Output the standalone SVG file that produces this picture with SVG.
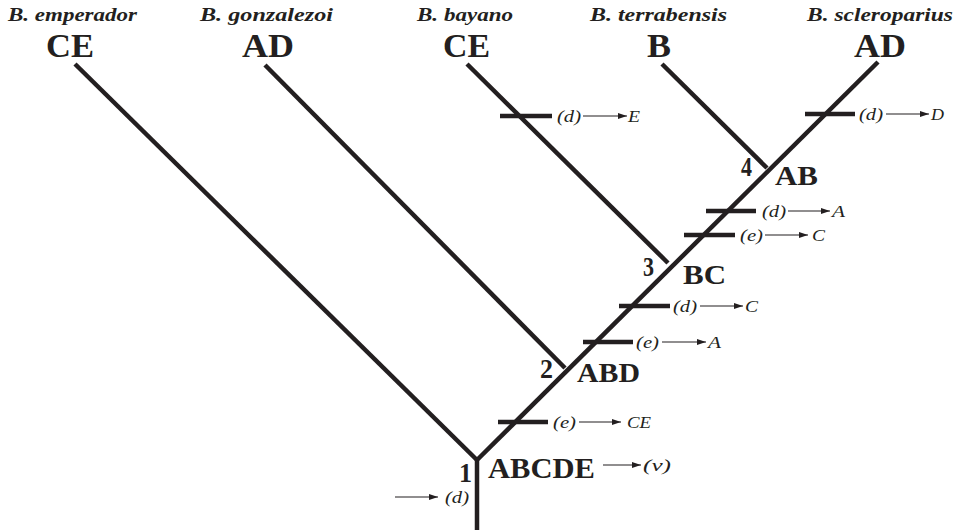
<svg xmlns="http://www.w3.org/2000/svg" width="960" height="530" viewBox="0 0 960 530">
<style>
.br{stroke:#231f20;stroke-width:4.5;fill:none;stroke-linecap:butt}
.bar{stroke:#231f20;stroke-width:4.5}
.ar{stroke:#231f20;stroke-width:1.1;marker-end:url(#ah)}
.tx{font-family:"Liberation Serif","Times New Roman",serif;font-weight:bold;font-style:italic;font-size:18px;fill:#231f20}
.big{font-family:"Liberation Serif","Times New Roman",serif;font-weight:bold;font-size:33px;fill:#231f20}
.nd{font-family:"Liberation Serif","Times New Roman",serif;font-weight:bold;font-size:27px;fill:#231f20}
.sm{font-family:"Liberation Serif","Times New Roman",serif;font-style:italic;font-size:17px;fill:#231f20}
</style>
<defs>
<marker id="ah" markerWidth="9" markerHeight="6" refX="9" refY="3" orient="auto" markerUnits="userSpaceOnUse"><path d="M0,0 L9,3 L0,6 z" fill="#231f20"/></marker>
</defs>
<rect width="960" height="530" fill="#ffffff"/>
<g id="connectors">
<line class="br" x1="477" y1="530" x2="477" y2="460"/>
<line class="br" x1="477" y1="460" x2="75" y2="64"/>
<line class="br" x1="477" y1="460" x2="878" y2="62"/>
<line class="br" x1="565" y1="368" x2="265" y2="65"/>
<line class="br" x1="668" y1="263" x2="467" y2="64"/>
<line class="br" x1="767" y1="168" x2="662" y2="64"/>
</g>
<g id="taxon-emperador">
<text class="tx" x="8" y="21" textLength="129" lengthAdjust="spacingAndGlyphs">B. emperador</text>
<text class="big" x="46" y="57" textLength="48" lengthAdjust="spacingAndGlyphs">CE</text>
</g>
<g id="taxon-gonzalezoi">
<text class="tx" x="200" y="21" textLength="133" lengthAdjust="spacingAndGlyphs">B. gonzalezoi</text>
<text class="big" x="242" y="57" textLength="52" lengthAdjust="spacingAndGlyphs">AD</text>
</g>
<g id="taxon-bayano">
<text class="tx" x="417" y="21" textLength="96" lengthAdjust="spacingAndGlyphs">B. bayano</text>
<text class="big" x="443" y="57" textLength="47" lengthAdjust="spacingAndGlyphs">CE</text>
</g>
<g id="taxon-terrabensis">
<text class="tx" x="590" y="21" textLength="137" lengthAdjust="spacingAndGlyphs">B. terrabensis</text>
<text class="big" x="647" y="57" textLength="24" lengthAdjust="spacingAndGlyphs">B</text>
</g>
<g id="taxon-scleroparius">
<text class="tx" x="807" y="21" textLength="146" lengthAdjust="spacingAndGlyphs">B. scleroparius</text>
<text class="big" x="854" y="57" textLength="52" lengthAdjust="spacingAndGlyphs">AD</text>
</g>
<g id="node1">
<text class="nd" x="459" y="482" textLength="13" lengthAdjust="spacingAndGlyphs">1</text>
<text class="nd" x="488" y="478" style="font-size:30px" textLength="107" lengthAdjust="spacingAndGlyphs">ABCDE</text>
</g>
<g id="node2">
<text class="nd" x="540" y="378" textLength="13" lengthAdjust="spacingAndGlyphs">2</text>
<text class="nd" x="577" y="382" textLength="63" lengthAdjust="spacingAndGlyphs">ABD</text>
</g>
<g id="node3">
<text class="nd" x="643" y="276" textLength="11" lengthAdjust="spacingAndGlyphs">3</text>
<text class="nd" x="683" y="284" textLength="43" lengthAdjust="spacingAndGlyphs">BC</text>
</g>
<g id="node4">
<text class="nd" x="741" y="176" textLength="11" lengthAdjust="spacingAndGlyphs">4</text>
<text class="nd" x="775" y="185" textLength="43" lengthAdjust="spacingAndGlyphs">AB</text>
</g>
<g id="change-bayano">
<line class="bar" x1="500" y1="116" x2="552" y2="116"/>
<text class="sm" x="557" y="122" textLength="24" lengthAdjust="spacingAndGlyphs">(d)</text>
<line class="ar" x1="583" y1="116" x2="627" y2="116"/>
<text class="sm" x="628" y="122" textLength="12" lengthAdjust="spacingAndGlyphs">E</text>
</g>
<g id="change-scleroparius">
<line class="bar" x1="805" y1="114" x2="855" y2="114"/>
<text class="sm" x="859" y="120" textLength="24" lengthAdjust="spacingAndGlyphs">(d)</text>
<line class="ar" x1="886" y1="114" x2="929" y2="114"/>
<text class="sm" x="931" y="120" textLength="13" lengthAdjust="spacingAndGlyphs">D</text>
</g>
<g id="change-dA">
<line class="bar" x1="706" y1="211" x2="756" y2="211"/>
<text class="sm" x="762" y="217" textLength="24" lengthAdjust="spacingAndGlyphs">(d)</text>
<line class="ar" x1="788" y1="211" x2="830" y2="211"/>
<text class="sm" x="832" y="217" textLength="13" lengthAdjust="spacingAndGlyphs">A</text>
</g>
<g id="change-eC">
<line class="bar" x1="684" y1="235" x2="735" y2="235"/>
<text class="sm" x="740" y="241" textLength="23" lengthAdjust="spacingAndGlyphs">(e)</text>
<line class="ar" x1="765" y1="235" x2="808" y2="235"/>
<text class="sm" x="812" y="241" textLength="13" lengthAdjust="spacingAndGlyphs">C</text>
</g>
<g id="change-dC">
<line class="bar" x1="619" y1="306" x2="670" y2="306"/>
<text class="sm" x="673" y="312" textLength="24" lengthAdjust="spacingAndGlyphs">(d)</text>
<line class="ar" x1="700" y1="306" x2="743" y2="306"/>
<text class="sm" x="745" y="312" textLength="13" lengthAdjust="spacingAndGlyphs">C</text>
</g>
<g id="change-eA">
<line class="bar" x1="583" y1="342" x2="633" y2="342"/>
<text class="sm" x="636" y="348" textLength="23" lengthAdjust="spacingAndGlyphs">(e)</text>
<line class="ar" x1="662" y1="342" x2="706" y2="342"/>
<text class="sm" x="708" y="348" textLength="13" lengthAdjust="spacingAndGlyphs">A</text>
</g>
<g id="change-eCE">
<line class="bar" x1="498" y1="422" x2="548" y2="422"/>
<text class="sm" x="553" y="428" textLength="23" lengthAdjust="spacingAndGlyphs">(e)</text>
<line class="ar" x1="579" y1="422" x2="621" y2="422"/>
<text class="sm" x="627" y="428" textLength="24" lengthAdjust="spacingAndGlyphs">CE</text>
</g>
<g id="change-v">
<line class="ar" x1="603" y1="465" x2="641" y2="465"/>
<text class="sm" x="643" y="471" textLength="28" lengthAdjust="spacingAndGlyphs">(v)</text>
</g>
<g id="change-root-d">
<line class="ar" x1="395" y1="497" x2="438" y2="497"/>
<text class="sm" x="445" y="503" textLength="24" lengthAdjust="spacingAndGlyphs">(d)</text>
</g>
</svg>
